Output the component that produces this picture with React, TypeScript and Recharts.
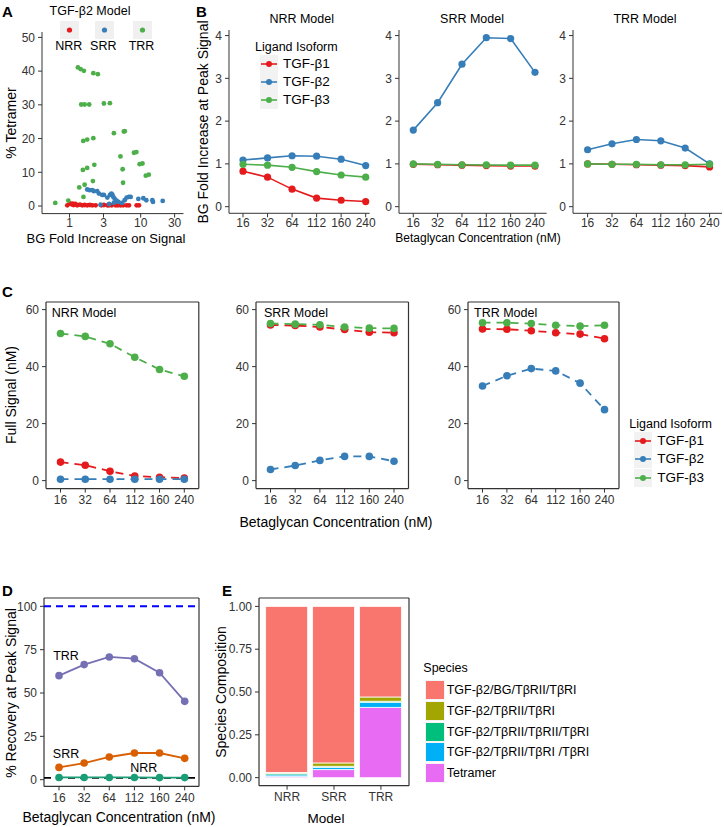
import React from 'react';
import {
  LineChart, Line, XAxis, YAxis, ScatterChart, Scatter, BarChart, Bar,
  CartesianGrid, ReferenceLine,
} from 'recharts';

const FONT = '"Liberation Sans", Arial, Helvetica, sans-serif';
const INK = '#333333';

// ---------- A: TGF-β2 model, % tetramer vs BG fold increase ----------
const nrrFold = [0.93, 1.01, 1.07, 1.11, 1.14, 1.21, 1.28, 1.4, 1.51, 1.63, 1.77, 1.93, 2.09, 2.33, 2.79, 3.04, 3.4, 3.58, 3.92, 4.45, 4.79, 5.22, 5.66, 6.35, 6.84, 8.78, 9.45];
const nrrTetramer = [0.2, 0.8, 0.5, 0.7, 0.3, 0.6, 0.2, 0.4, 0.2, 0.3, 0.2, 0.3, 0.2, 0.2, 0.2, 0.3, 0.2, 0.2, 0.2, 0.2, 0.2, 0.2, 0.2, 0.2, 0.2, 0.2, 0.2];
const srrFold = [1.77, 1.91, 2.09, 2.2, 2.45, 2.59, 2.88, 3.04, 3.4, 3.7, 3.87, 3.99, 4.12, 4.3, 4.59, 4.85, 5.46, 5.95, 6.35, 6.84, 7.23, 9.28, 10.9, 12.0, 14.6, 14.9, 20.4, 2.73, 3.6, 4.2];
const srrTetramer = [4.9, 4.7, 4.7, 4.4, 4.4, 3.7, 3.3, 3.3, 2.5, 3.3, 3.7, 3.4, 2.7, 2.2, 1.6, 1.2, 0.9, 1.7, 2.5, 2.7, 2.7, 2.1, 2.3, 1.7, 1.7, 1.2, 1.5, 0.4, 0.6, 1.0];
const trrFold = [1.31, 1.43, 1.59, 2.16, 2.5, 1.46, 1.63, 1.89, 3.04, 3.69, 1.56, 1.77, 2.16, 4.2, 5.8, 5.98, 5.2, 8.05, 8.7, 1.54, 1.77, 2.23, 5.58, 9.68, 10.6, 11.8, 13.0, 2.13, 5.65, 1.37, 1.63, 1.57, 0.63, 0.96];
const trrTetramer = [41.1, 40.6, 40.1, 39.4, 39.1, 30.1, 30.1, 30.1, 30.4, 30.5, 19.3, 19.7, 20.1, 21.6, 22.1, 22.2, 14.7, 15.8, 16.0, 10.7, 11.3, 12.2, 10.9, 12.4, 12.6, 9.0, 9.3, 7.4, 6.9, 5.5, 6.3, 2.7, 0.9, 1.6];
const foldTicks = [1, 3, 10, 30];
const tetramerTicks = [0, 10, 20, 30, 40, 50];

// ---------- B–D: betaglycan concentration series ----------
const concLabels = ['16', '32', '64', '112', '160', '240'];
const isoforms = ['TGF-β1', 'TGF-β2', 'TGF-β3'];

// B: BG fold increase at peak signal
const foldNrr1 = [0.83, 0.69, 0.41, 0.2, 0.15, 0.12];
const foldNrr2 = [1.09, 1.14, 1.19, 1.18, 1.11, 0.96];
const foldNrr3 = [0.99, 0.97, 0.92, 0.82, 0.74, 0.69];
const foldSrr1 = [0.99, 0.98, 0.97, 0.96, 0.95, 0.95];
const foldSrr2 = [1.79, 2.43, 3.33, 3.95, 3.93, 3.14];
const foldSrr3 = [1.0, 0.99, 0.98, 0.975, 0.97, 0.97];
const foldTrr1 = [1.0, 0.99, 0.98, 0.97, 0.96, 0.93];
const foldTrr2 = [1.33, 1.47, 1.57, 1.54, 1.37, 1.0];
const foldTrr3 = [1.0, 0.99, 0.99, 0.98, 0.98, 0.99];
const foldTicks4 = [0, 1, 2, 3, 4];

// C: full signal (nM)
const sigNrr1 = [6.5, 5.4, 3.3, 1.6, 1.2, 0.9];
const sigNrr2 = [0.5, 0.5, 0.5, 0.5, 0.5, 0.5];
const sigNrr3 = [51.6, 50.6, 48.0, 43.3, 39.0, 36.6];
const sigSrr1 = [54.6, 54.4, 53.9, 53.0, 52.1, 51.9];
const sigSrr2 = [3.9, 5.3, 7.1, 8.5, 8.5, 6.8];
const sigSrr3 = [55.1, 54.9, 54.7, 53.9, 53.5, 53.4];
const sigTrr1 = [53.2, 53.1, 52.6, 51.9, 51.4, 49.8];
const sigTrr2 = [33.2, 36.8, 39.3, 38.5, 34.2, 24.9];
const sigTrr3 = [55.4, 55.4, 55.1, 54.5, 54.2, 54.5];
const signalTicks = [0, 20, 40, 60];

// D: % recovery at peak signal
const recTrr = [60.0, 66.4, 70.8, 69.8, 61.7, 45.2];
const recSrr = [7.1, 9.6, 13.1, 15.4, 15.4, 12.3];
const recNrr = [1.3, 1.3, 1.3, 1.3, 1.2, 1.2];
const recoveryTicks = [0, 25, 50, 75, 100];
const fullRecovery = 100;
const baselineRecovery = 1;

// E: species composition
const models = ['NRR', 'SRR', 'TRR'];
const species = ['TGF-β2/BG/TβRII/TβRI', 'TGF-β2/TβRII/TβRI', 'TGF-β2/TβRII/TβRII/TβRI', 'TGF-β2/TβRII/TβRI /TβRI', 'Tetramer'];
const shareBg = [0.97, 0.914, 0.529];
const shareRiiRi = [0.006, 0.02, 0.025];
const shareRiiRiiRi = [0.008, 0.006, 0.006];
const shareRiiRiRi = [0.01, 0.013, 0.03];
const shareTetramer = [0.006, 0.047, 0.41];
const shareTicks = [0, 0.25, 0.5, 0.75, 1];

const RED = '#e41a1c';
const BLUE = '#377eb8';
const GREEN = '#4daf4a';
const isoColors = [RED, BLUE, GREEN];
const speciesColors = ['#F8766D', '#A3A500', '#00BF7D', '#00B0F6', '#E76BF3'];

const tick = { fontSize: 12, fill: INK, fontFamily: FONT };
const M = { top: 6, right: 8, bottom: 4, left: 4 };

function frame(x0: number, y0: number, x1: number, y1: number, yw: number, xh: number) {
  return {
    pos: { position: 'absolute' as const, left: x0 - yw - M.left, top: y0 - M.top },
    width: x1 - x0 + yw + M.left + M.right,
    height: y1 - y0 + M.top + M.bottom + xh,
  };
}

function seriesRows(a: number[], b: number[], c: number[]) {
  return concLabels.map((conc, i) => ({ conc, s1: a[i], s2: b[i], s3: c[i] }));
}

function Txt({ x, y, children, size = 14, anchor = 'middle', rotate = false, bold = false }: any) {
  const tx = anchor === 'middle' ? '-50%' : anchor === 'end' ? '-100%' : '0';
  return (
    <div style={{
      position: 'absolute', left: x, top: y, whiteSpace: 'nowrap', lineHeight: 1,
      fontSize: size, fontWeight: bold ? 700 : 400, fontFamily: FONT, color: '#000',
      transform: `translate(${tx},-50%)${rotate ? ' rotate(-90deg)' : ''}`,
    }}>{children}</div>
  );
}

const boxGrid = (
  <CartesianGrid
    stroke={INK}
    strokeWidth={1.2}
    horizontalCoordinatesGenerator={({ offset, height }: any) => [offset.top, height - offset.bottom]}
    verticalCoordinatesGenerator={({ offset, width }: any) => [offset.left, width - offset.right]}
  />
);

function FoldFacet({ rect, pad, rows }: any) {
  const f = frame(rect[0], rect[1], rect[2], rect[3], 30, 18);
  return (
    <div style={f.pos}>
      <LineChart width={f.width} height={f.height} margin={M} data={rows} style={{ fontFamily: FONT }}>
        <XAxis dataKey="conc" padding={pad} tick={tick} tickSize={4} tickMargin={1} height={18} stroke={INK} interval={0} />
        <YAxis type="number" domain={[-0.155, 4.13]} allowDataOverflow ticks={foldTicks4} tick={tick} tickSize={4} tickMargin={3} width={30} stroke={INK} />
        {['s1', 's2', 's3'].map((k, i) => (
          <Line key={k} dataKey={k} stroke={isoColors[i]} strokeWidth={1.6}
            dot={{ r: 3.6, fill: isoColors[i], stroke: isoColors[i], strokeWidth: 0 }}
            activeDot={false} isAnimationActive={false} />
        ))}
      </LineChart>
    </div>
  );
}

function SignalFacet({ rect, rows }: any) {
  const f = frame(rect[0], rect[1], rect[2], rect[3], 40, 24);
  return (
    <div style={f.pos}>
      <LineChart width={f.width} height={f.height} margin={M} data={rows} style={{ fontFamily: FONT }}>
        {boxGrid}
        <XAxis dataKey="conc" padding={{ left: 14.5, right: 14.5 }} tick={tick} tickSize={4} tickMargin={3} height={24} stroke={INK} axisLine={false} interval={0} />
        <YAxis type="number" domain={[-2.8, 62.67]} allowDataOverflow ticks={signalTicks} tick={tick} tickSize={4} tickMargin={3} width={40} stroke={INK} axisLine={false} />
        {['s1', 's2', 's3'].map((k, i) => (
          <Line key={k} dataKey={k} stroke={isoColors[i]} strokeWidth={1.8} strokeDasharray="8 6"
            dot={{ r: 3.8, fill: isoColors[i], stroke: isoColors[i], strokeWidth: 0, strokeDasharray: '' }}
            activeDot={false} isAnimationActive={false} />
        ))}
      </LineChart>
    </div>
  );
}

function IsoLegend({ x, y }: any) {
  return (
    <>
      <Txt x={x} y={y} size={12.5} anchor="start">Ligand Isoform</Txt>
      {isoforms.map((name, i) => (
        <React.Fragment key={name}>
          <svg width={18} height={18} style={{ position: 'absolute', left: x + 5, top: y + 8 + i * 18.3 }}>
            <rect x={0} y={0} width={18} height={18} fill="#f2f2f2" />
            <line x1={1} y1={9} x2={17} y2={9} stroke={isoColors[i]} strokeWidth={1.6} />
            <circle cx={9} cy={9} r={3} fill={isoColors[i]} />
          </svg>
          <Txt x={x + 28} y={y + 17 + i * 18.3} size={13.5} anchor="start">{name}</Txt>
        </React.Fragment>
      ))}
    </>
  );
}

export default function App() {
  const scatterSets = [
    { name: 'NRR', color: RED, pts: nrrFold.map((v, i) => ({ fold: v, tet: nrrTetramer[i] })) },
    { name: 'SRR', color: BLUE, pts: srrFold.map((v, i) => ({ fold: v, tet: srrTetramer[i] })) },
    { name: 'TRR', color: GREEN, pts: trrFold.map((v, i) => ({ fold: v, tet: trrTetramer[i] })) },
  ];
  const fA = frame(41.5, 31.7, 183, 213.3, 40, 18);
  const fD = frame(44.3, 598.3, 199.3, 786.7, 40, 24);
  const fE = frame(259.3, 598.3, 409.3, 786, 45, 24);
  const recRows = concLabels.map((conc, i) => ({ conc, trr: recTrr[i], srr: recSrr[i], nrr: recNrr[i] }));
  const recSeries = [
    { key: 'trr', color: '#7570b3' },
    { key: 'srr', color: '#d95f02' },
    { key: 'nrr', color: '#1b9e77' },
  ];
  const compRows = models.map((model, i) => ({
    model, tet: shareTetramer[i], riri: shareRiiRiRi[i], riiri2: shareRiiRiiRi[i], riiri: shareRiiRi[i], bg: shareBg[i],
  }));
  const stackKeys = ['tet', 'riri', 'riiri2', 'riiri', 'bg'];
  const stackColors = [speciesColors[4], speciesColors[3], speciesColors[2], speciesColors[1], speciesColors[0]];

  return (
    <div style={{ position: 'absolute', left: 0, top: 0, width: 724, height: 827, overflow: 'hidden', background: '#fff', fontFamily: FONT }}>
      {/* ---------- A ---------- */}
      <Txt x={2} y={11} size={15} bold anchor="start">A</Txt>
      <Txt x={90} y={11} size={12.5}>TGF-β2 Model</Txt>
      {scatterSets.map((s, i) => {
        const cx = [69.7, 104.3, 142.5][i];
        return (
          <React.Fragment key={s.name}>
            <svg width={19} height={18} style={{ position: 'absolute', left: cx - 9.5, top: 21 }}>
              <rect x={0} y={0} width={19} height={18} fill="#f0f0f0" />
              <circle cx={9.5} cy={9} r={2.6} fill={s.color} />
            </svg>
            <Txt x={cx - 1} y={45.5} size={12.5}>{s.name}</Txt>
          </React.Fragment>
        );
      })}
      <Txt x={11} y={122.5} rotate>% Tetramer</Txt>
      <Txt x={106} y={238} size={13}>BG Fold Increase on Signal</Txt>
      <div style={fA.pos}>
        <ScatterChart width={fA.width} height={fA.height} margin={M} style={{ fontFamily: FONT }}>
          <XAxis type="number" dataKey="fold" scale="log" domain={[0.41, 40]} allowDataOverflow ticks={foldTicks}
            tick={tick} tickSize={4} tickMargin={1} height={18} stroke={INK} />
          <YAxis type="number" dataKey="tet" domain={[-2.25, 51.6]} allowDataOverflow ticks={tetramerTicks}
            tick={tick} tickSize={4} tickMargin={3} width={40} stroke={INK} />
          {scatterSets.map(s => (
            <Scatter key={s.name} data={s.pts} isAnimationActive={false}
              shape={(p: any) => <circle cx={p.cx} cy={p.cy} r={2.4} fill={s.color} />} />
          ))}
        </ScatterChart>
      </div>

      {/* ---------- B ---------- */}
      <Txt x={196} y={11} size={15} bold anchor="start">B</Txt>
      <Txt x={203} y={121.7} rotate>BG Fold Increase at Peak Signal</Txt>
      <Txt x={301.7} y={19} size={12.5}>NRR Model</Txt>
      <Txt x={472} y={19} size={12.5}>SRR Model</Txt>
      <Txt x={645} y={19} size={12.5}>TRR Model</Txt>
      <Txt x={478} y={238} size={12}>Betaglycan Concentration (nM)</Txt>
      <FoldFacet rect={[229.3, 30, 370, 213.3]} pad={{ left: 14, right: 4 }} rows={seriesRows(foldNrr1, foldNrr2, foldNrr3)} />
      <FoldFacet rect={[399, 30, 546.7, 213.3]} pad={{ left: 14.3, right: 11.7 }} rows={seriesRows(foldSrr1, foldSrr2, foldSrr3)} />
      <FoldFacet rect={[572.7, 30, 721.7, 213.3]} pad={{ left: 14.6, right: 12.4 }} rows={seriesRows(foldTrr1, foldTrr2, foldTrr3)} />
      <IsoLegend x={255} y={46.7} />

      {/* ---------- C ---------- */}
      <Txt x={2} y={291} size={15} bold anchor="start">C</Txt>
      <Txt x={11} y={395} rotate>Full Signal (nM)</Txt>
      <SignalFacet rect={[45.5, 301.7, 198.3, 488.3]} rows={seriesRows(sigNrr1, sigNrr2, sigNrr3)} />
      <SignalFacet rect={[256, 301.7, 408.5, 488.3]} rows={seriesRows(sigSrr1, sigSrr2, sigSrr3)} />
      <SignalFacet rect={[467.5, 301.7, 618.5, 488.3]} rows={seriesRows(sigTrr1, sigTrr2, sigTrr3)} />
      <Txt x={51.7} y={313} size={12.5} anchor="start">NRR Model</Txt>
      <Txt x={264} y={313} size={12.5} anchor="start">SRR Model</Txt>
      <Txt x={474} y={313} size={12.5} anchor="start">TRR Model</Txt>
      <Txt x={336} y={521.7}>Betaglycan Concentration (nM)</Txt>
      <IsoLegend x={629.3} y={424} />

      {/* ---------- D ---------- */}
      <Txt x={2} y={590} size={15} bold anchor="start">D</Txt>
      <Txt x={11} y={692.5} rotate>% Recovery at Peak Signal</Txt>
      <Txt x={119} y={816.5}>Betaglycan Concentration (nM)</Txt>
      <div style={fD.pos}>
        <LineChart width={fD.width} height={fD.height} margin={M} data={recRows} style={{ fontFamily: FONT }}>
          {boxGrid}
          <XAxis dataKey="conc" padding={{ left: 15, right: 14.3 }} tick={tick} tickSize={4} tickMargin={3} height={24} stroke={INK} axisLine={false} interval={0} />
          <YAxis type="number" domain={[-3.86, 104.8]} allowDataOverflow ticks={recoveryTicks} tick={tick} tickSize={4} tickMargin={3} width={40} stroke={INK} axisLine={false} />
          <ReferenceLine y={fullRecovery} stroke="#0000ff" strokeWidth={2} strokeDasharray="7 5" />
          <ReferenceLine y={baselineRecovery} stroke="#000" strokeWidth={1.8} strokeDasharray="7 5" />
          {recSeries.map(s => (
            <Line key={s.key} dataKey={s.key} stroke={s.color} strokeWidth={1.8}
              dot={{ r: 3.8, fill: s.color, stroke: s.color, strokeWidth: 0 }}
              activeDot={false} isAnimationActive={false} />
          ))}
        </LineChart>
      </div>
      <Txt x={66} y={656} size={12.5}>TRR</Txt>
      <Txt x={66} y={754} size={12.5}>SRR</Txt>
      <Txt x={143.7} y={767.7} size={12.5}>NRR</Txt>

      {/* ---------- E ---------- */}
      <Txt x={222} y={590} size={15} bold anchor="start">E</Txt>
      <Txt x={221} y={692} rotate>Species Composition</Txt>
      <Txt x={326} y={818.5} size={13.5}>Model</Txt>
      <div style={fE.pos}>
        <BarChart width={fE.width} height={fE.height} margin={M} data={compRows} style={{ fontFamily: FONT }}>
          {boxGrid}
          <XAxis dataKey="model" padding={{ left: 4.6, right: 4.6 }} tick={tick} tickSize={4} tickMargin={3} height={24} stroke={INK} axisLine={false} />
          <YAxis type="number" domain={[-0.047, 1.049]} allowDataOverflow ticks={shareTicks} tickFormatter={(v: number) => v.toFixed(2)}
            tick={tick} tickSize={4} tickMargin={3} width={45} stroke={INK} axisLine={false} />
          {stackKeys.map((k, i) => (
            <Bar key={k} dataKey={k} stackId="s" fill={stackColors[i]} stroke="#fff" strokeWidth={0.8} barSize={42} isAnimationActive={false} />
          ))}
        </BarChart>
      </div>
      <Txt x={423.3} y={668.3} size={12.5} anchor="start">Species</Txt>
      {species.map((name, i) => (
        <React.Fragment key={name}>
          <svg width={20} height={20} style={{ position: 'absolute', left: 424.5, top: 679.7 + i * 20.9 }}>
            <rect x={0.5} y={0.5} width={19} height={19} fill={speciesColors[i]} stroke="#f4f4f4" strokeWidth={1} />
          </svg>
          <Txt x={446.7} y={689.7 + i * 20.9} size={12.5} anchor="start">{name}</Txt>
        </React.Fragment>
      ))}
    </div>
  );
}
